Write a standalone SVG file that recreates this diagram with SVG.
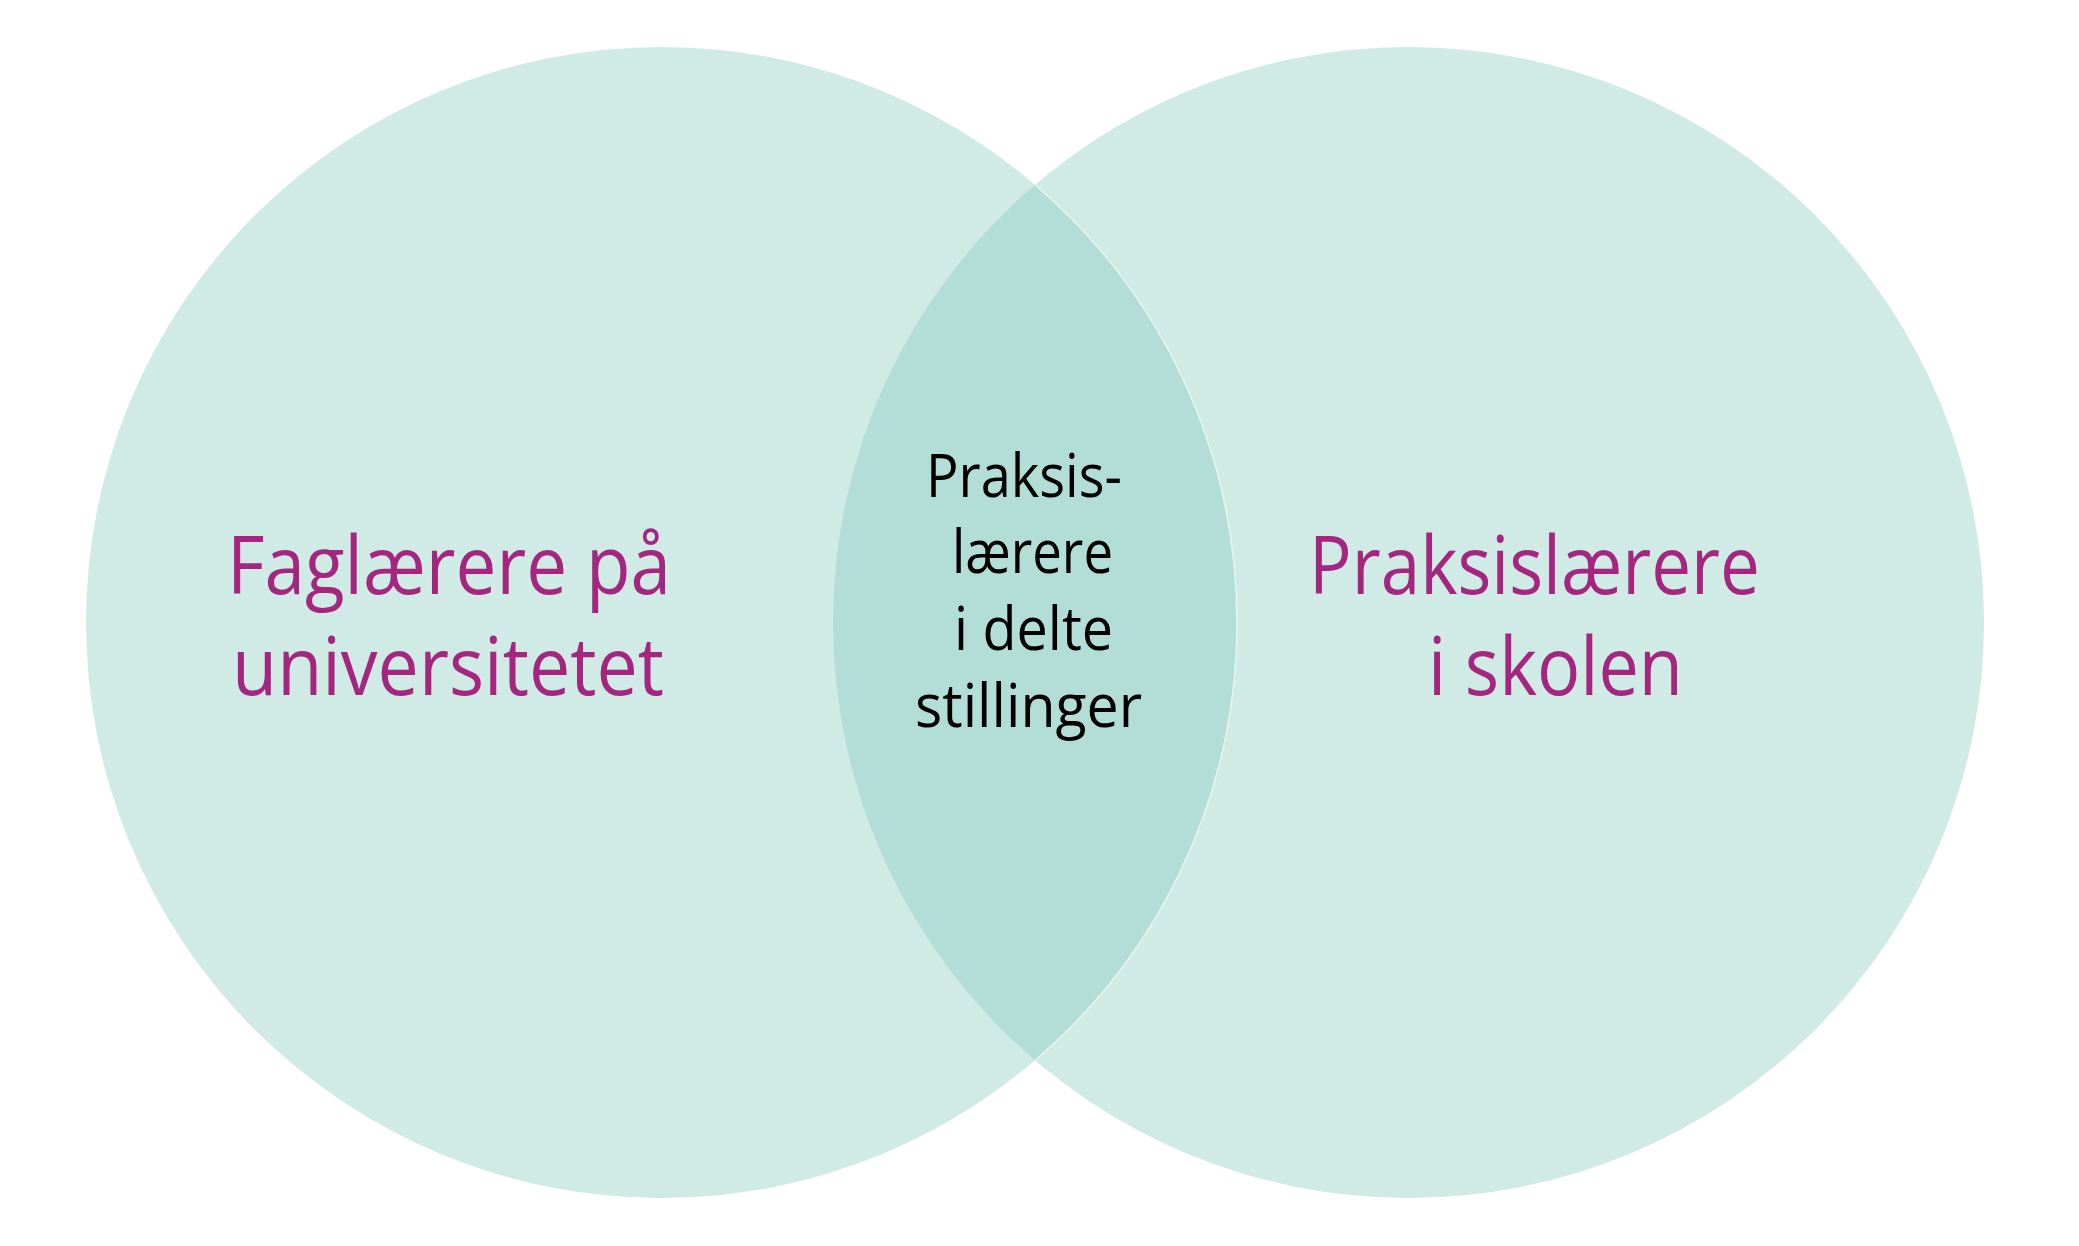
<svg xmlns="http://www.w3.org/2000/svg" width="2079" height="1246" viewBox="0 0 2079 1246">
<style>
.circ{fill:#D0EAE6}
.lens{fill:#B3DED8}
.edge{fill:none;stroke:#E6F4F2;stroke-width:1.5}
.lbl{font-family:"Open Sans","Noto Sans","Liberation Sans",sans-serif;fill:#A4267F;font-size:81px}
.mid{font-family:"Open Sans","Noto Sans","Liberation Sans",sans-serif;fill:#000000;font-size:61px}
</style>
<rect width="2079" height="1246" fill="#FFFFFF"/>
<g id="left-circle">
<circle class="circ" cx="661.5" cy="622.5" r="575.5"/>
<text class="lbl" x="227" y="594" textLength="444" lengthAdjust="spacingAndGlyphs">Faglærere på</text>
<text class="lbl" x="232" y="695" textLength="432" lengthAdjust="spacingAndGlyphs">universitetet</text>
</g>
<g id="right-circle">
<circle class="circ" cx="1408.5" cy="622.5" r="575.5"/>
<text class="lbl" x="1309" y="594" textLength="451" lengthAdjust="spacingAndGlyphs">Praksislærere</text>
<text class="lbl" x="1428" y="695" textLength="255" lengthAdjust="spacingAndGlyphs">i skolen</text>
</g>
<g id="overlap">
<path class="lens" d="M1035,184.7 A575.5,575.5 0 0 0 1035,1060.3 A575.5,575.5 0 0 0 1035,184.7 Z"/>
<path class="edge" d="M1035,184.7 A575.5,575.5 0 0 1 1035,1060.3"/>
<text class="mid" x="926" y="497" textLength="196" lengthAdjust="spacingAndGlyphs">Praksis-</text>
<text class="mid" x="952" y="573" textLength="161" lengthAdjust="spacingAndGlyphs">lærere</text>
<text class="mid" x="954" y="650" textLength="159" lengthAdjust="spacingAndGlyphs">i delte</text>
<text class="mid" x="915" y="727" textLength="227" lengthAdjust="spacingAndGlyphs">stillinger</text>
</g>
<g id="connectors"/>
</svg>
